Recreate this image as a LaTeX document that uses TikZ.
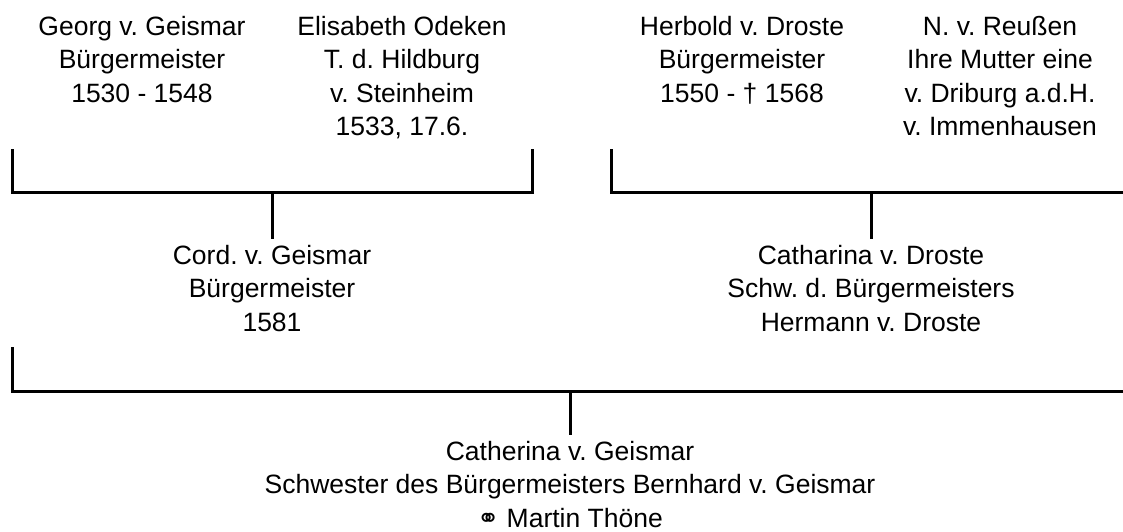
\documentclass[tikz,border=0pt]{standalone}
\usepackage{fontspec}
\setmainfont{Liberation Sans}
\newfontfamily\symfont{DejaVu Sans}
\usepackage{tikz}
\usetikzlibrary{positioning}
\frenchspacing

\begin{document}
\begin{tikzpicture}[x={0.5pt}, y={-0.5pt},
		person/.style={align=center, anchor=base, inner sep={2.5pt}, font={\fontsize{13.25}{16.75}\selectfont}},
		bar/.style={draw, line width={1.5pt}}]
				\useasboundingbox (0, 0) rectangle (1123, 531);
				
				\node[person] (georg) at (142, 102) {Georg v. Geismar\\Bürgermeister\\1530 - 1548};
				\node[person] (elisabeth) at (402, 135.5) {Elisabeth Odeken\\T. d. Hildburg\\v. Steinheim\\1533, 17.6.};
				\node[person] (herbold) at (742, 102) {Herbold v. Droste\\Bürgermeister\\1550 - † 1568};
				\node[person] (reussen) at (1000, 135.5) {N. v. Reußen\\Ihre Mutter eine\\v. Driburg a.d.H.\\v. Immenhausen};
				
				\node[person] (cord) at (272, 331) {Cord. v. Geismar\\Bürgermeister\\1581};
				\node[person] (catharina) at (871, 331) {Catharina v. Droste\\Schw. d. Bürgermeisters\\Hermann v. Droste};
				
				\node[person] (catherina) at (570, 527) {Catherina v. Geismar\\Schwester des Bürgermeisters Bernhard v. Geismar\\{\symfont ⚭} Martin Thöne};
				
				\coordinate (georgleg) at (12, 149);
				\coordinate (elisabethleg) at (532, 149);
				\coordinate (herboldleg) at (611, 149);
				\coordinate (reussenleg) at (1123, 192);
				\coordinate (cordleg) at (12, 347);
				\coordinate (catharinaleg) at (1123, 391);
				
				\begin{scope}[bar]
					\draw (georgleg) |- (elisabethleg |- 0, 192) -- (elisabethleg);
					\draw (cord.north |- 0, 192) -- (cord.north);
					\draw (herboldleg) |- (reussenleg);
					\draw (catharina.north |- 0, 192) -- (catharina.north);
					\draw (cordleg) |- (catharinaleg);
					\draw (catherina.north |- 0, 391) -- (catherina.north);
				\end{scope}
				
			\end{tikzpicture}
\end{document}
